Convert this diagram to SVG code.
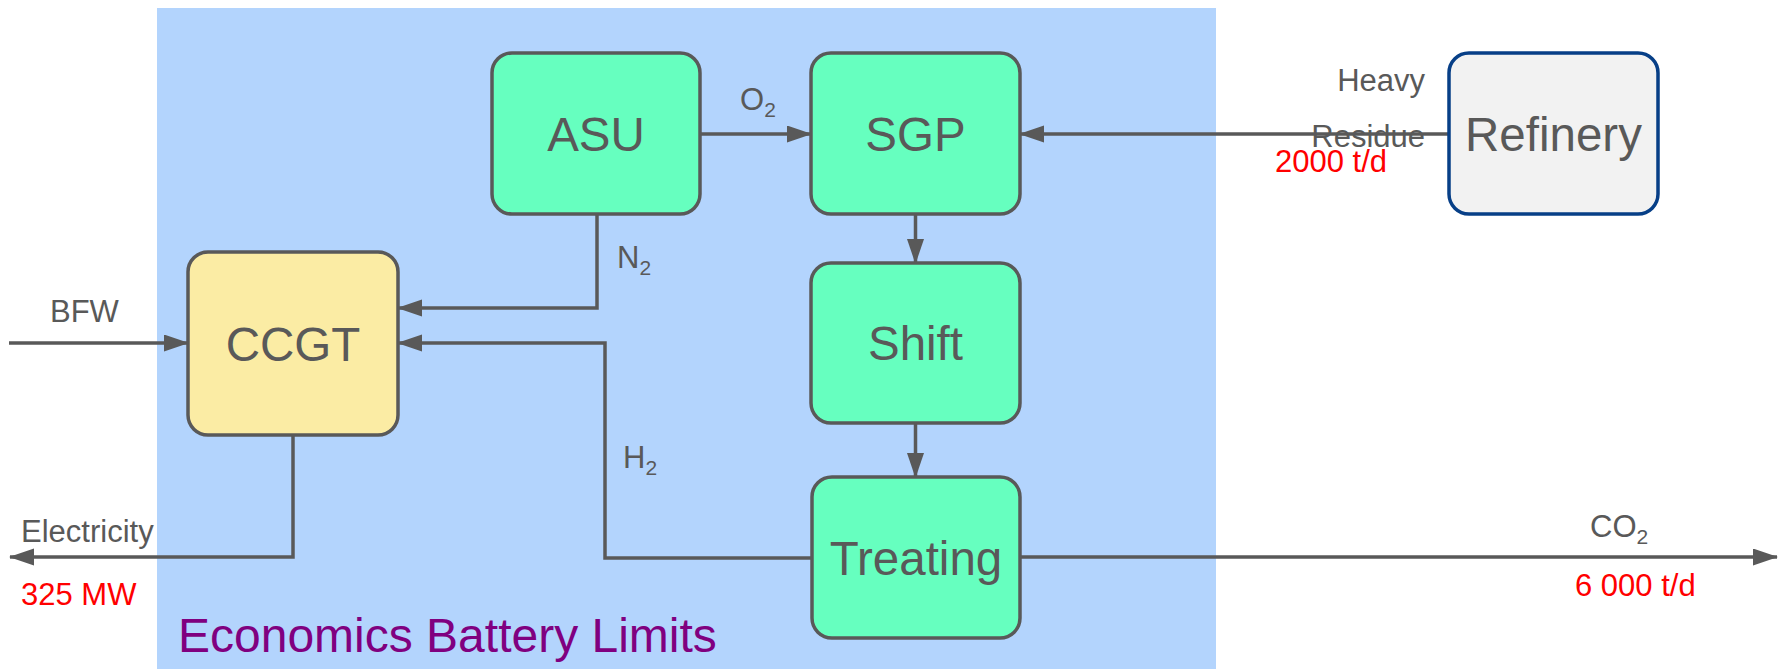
<svg xmlns="http://www.w3.org/2000/svg" width="1779" height="669" viewBox="0 0 1779 669">
<style>
.box{stroke:#595959;stroke-width:3.5}
.green{fill:#66ffbf}
.node{font-family:"Liberation Sans",Arial,sans-serif;font-size:47.5px;fill:#595959;text-anchor:middle}
.lbl{font-family:"Liberation Sans",Arial,sans-serif;font-size:31px;fill:#595959}
.red{font-family:"Liberation Sans",Arial,sans-serif;font-size:31px;fill:#ff0000}
.conn{fill:none;stroke:#595959;stroke-width:3.5;marker-end:url(#arr)}
</style>
<defs>
<marker id="arr" markerUnits="userSpaceOnUse" markerWidth="26" markerHeight="18" refX="24" refY="8.5" orient="auto">
<path d="M0,0 L25,8.5 L0,17 z" fill="#595959"/>
</marker>
</defs>
<rect id="battery-limits" x="157" y="8" width="1059" height="661" fill="#b3d4fd"/>
<text x="178" y="652" font-family="Liberation Sans, Arial, sans-serif" font-size="48" fill="#800080">Economics Battery Limits</text>

<g id="connectors">
<path class="conn" d="M700,134 L811,134"/>
<path class="conn" d="M1449,134 L1020,134"/>
<path class="conn" d="M915.5,214 L915.5,263"/>
<path class="conn" d="M915.5,423 L915.5,477"/>
<path class="conn" d="M597,214 L597,308 L398,308"/>
<path class="conn" d="M812,558 L605,558 L605,343 L398,343"/>
<path class="conn" d="M9,343 L188,343"/>
<path class="conn" d="M293,435 L293,557 L10,557"/>
<path class="conn" d="M1020,557 L1777,557"/>
</g>

<g id="labels">
<text class="lbl" x="740" y="110">O<tspan font-size="21" dy="7">2</tspan></text>
<text class="lbl" x="617" y="268">N<tspan font-size="21" dy="7">2</tspan></text>
<text class="lbl" x="623" y="468">H<tspan font-size="21" dy="7">2</tspan></text>
<text class="lbl" x="1590" y="537">CO<tspan font-size="21" dy="7">2</tspan></text>
<text class="lbl" x="50" y="322">BFW</text>
<text class="lbl" x="21" y="542">Electricity</text>
<text class="red" x="21" y="605">325 MW</text>
<text class="red" x="1575" y="596">6 000 t/d</text>
<text class="lbl" x="1425" y="91" text-anchor="end">Heavy</text>
<text class="lbl" x="1425" y="147" text-anchor="end">Residue</text>
<text class="red" x="1275" y="172">2000 t/d</text>
</g>

<g id="ASU">
<rect class="box green" x="492" y="53" width="208" height="161" rx="20"/>
<text class="node" x="596" y="151">ASU</text>
</g>
<g id="SGP">
<rect class="box green" x="811" y="53" width="209" height="161" rx="20"/>
<text class="node" x="915.5" y="151">SGP</text>
</g>
<g id="Shift">
<rect class="box green" x="811" y="263" width="209" height="160" rx="20"/>
<text class="node" x="915.5" y="360">Shift</text>
</g>
<g id="Treating">
<rect class="box green" x="812" y="477" width="208" height="161" rx="20"/>
<text class="node" x="916" y="575">Treating</text>
</g>
<g id="CCGT">
<rect class="box" fill="#fbeca4" x="188" y="252" width="210" height="183" rx="20"/>
<text class="node" x="293" y="361">CCGT</text>
</g>
<g id="Refinery">
<rect x="1449" y="53" width="209" height="161" rx="20" fill="#f2f2f2" stroke="#073f87" stroke-width="3.5"/>
<text class="node" x="1553.5" y="151">Refinery</text>
</g>
</svg>
